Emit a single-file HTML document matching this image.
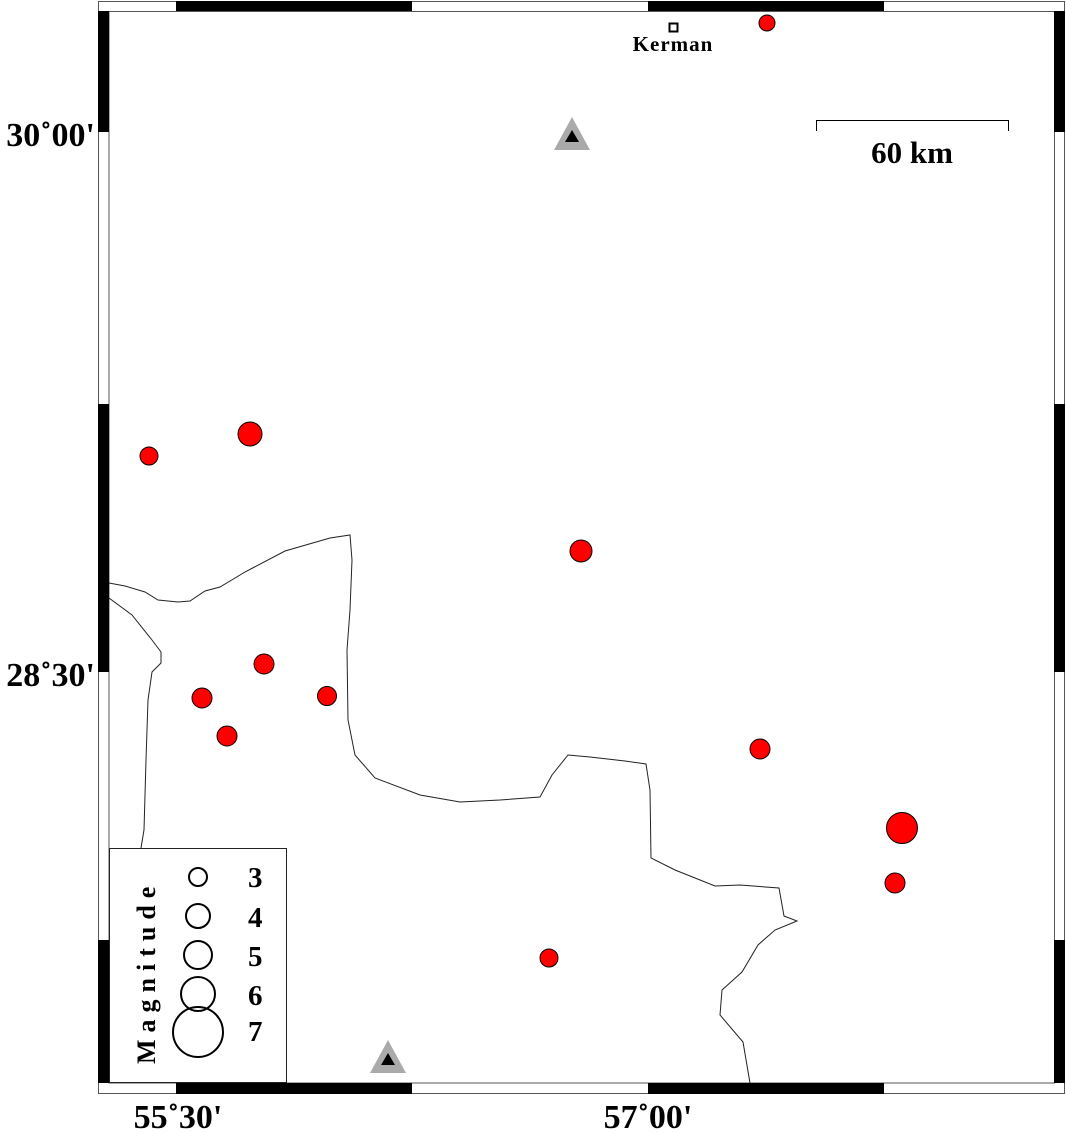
<!DOCTYPE html>
<html><head><meta charset="utf-8"><style>body{margin:0;background:#fff}svg{display:block}</style></head>
<body>
<svg width="1066" height="1133" viewBox="0 0 1066 1133" xmlns="http://www.w3.org/2000/svg">
<rect width="1066" height="1133" fill="#fff"/>
<rect x="98.5" y="1.5" width="966" height="1092" fill="none" stroke="#555" stroke-width="1"/>
<rect x="109" y="11.5" width="945.5" height="1071.5" fill="none" stroke="#555" stroke-width="1"/>
<g fill="#000">
<rect x="176" y="1" width="236" height="10"/><rect x="648" y="1" width="236" height="10"/>
<rect x="176" y="1083" width="236" height="11"/><rect x="648" y="1083" width="236" height="11"/>
<rect x="98" y="11" width="11" height="121"/><rect x="98" y="404" width="11" height="268"/><rect x="98" y="940" width="11" height="143"/>
<rect x="1054" y="11" width="11" height="121"/><rect x="1054" y="404" width="11" height="268"/><rect x="1054" y="940" width="11" height="143"/>
</g>
<g fill="none" stroke="#222" stroke-width="1">
<path d="M109,583 L125,586 L145,592 L158,600 L178,602 L190,601 L205,591 L220,587 L245,572 L285,551 L330,538 L350,535 L352,560 L350,610 L347,650 L348,720 L355,755 L375,778 L420,795 L460,802 L500,800 L540,797 L552,775 L568,755 L590,757 L625,761 L646,764 L650,790 L651,858 L675,870 L715,886 L740,885 L779,888 L784,916 L797,921 L775,930 L758,945 L742,972 L722,990 L720,1015 L743,1042 L750,1083"/>
<path d="M109,598 L132,615 L152,640 L161,652 L161,663 L152,672 L148,700 L146,760 L144,830 L141,848"/>
</g>
<rect x="109.5" y="848.5" width="177" height="234" fill="#fff" stroke="#222" stroke-width="1"/>
<g fill="none" stroke="#000" stroke-width="2">
<circle cx="198" cy="877" r="9"/><circle cx="198" cy="916" r="12"/><circle cx="198" cy="955" r="14"/><circle cx="198" cy="994" r="17"/><circle cx="198" cy="1032" r="25"/>
</g>
<g font-family="Liberation Serif, serif" font-weight="bold" font-size="29" fill="#000">
<text x="248" y="887">3</text><text x="248" y="927">4</text><text x="248" y="966">5</text><text x="248" y="1005">6</text><text x="248" y="1041">7</text>
<text transform="translate(155,1064) rotate(-90)" font-size="26" letter-spacing="7">Magnitude</text>
</g>
<g fill="#f00" stroke="#000" stroke-width="1">
<circle cx="767" cy="23" r="8"/><circle cx="250" cy="434" r="12"/><circle cx="149" cy="456" r="9"/>
<circle cx="581" cy="551" r="11"/><circle cx="264" cy="664" r="10"/><circle cx="202" cy="698" r="10"/>
<circle cx="327" cy="696" r="9.5"/><circle cx="227" cy="736" r="10"/><circle cx="760" cy="749" r="10"/>
<circle cx="902" cy="828" r="15.5"/><circle cx="895" cy="883" r="10"/><circle cx="549" cy="958" r="9"/>
</g>
<polygon points="572,117 554,150 590,150" fill="#aaa"/><polygon points="572,130 565,142 579,142" fill="#000"/>
<polygon points="388,1040 370,1073 406,1073" fill="#aaa"/><polygon points="388,1053 381,1065 395,1065" fill="#000"/>
<rect x="669.5" y="23.5" width="8" height="8" fill="#fff" stroke="#000" stroke-width="2"/>
<text x="673" y="51" text-anchor="middle" font-family="Liberation Serif, serif" font-weight="bold" font-size="21" letter-spacing="1">Kerman</text>
<path d="M816.5,131 V120.5 H1008.5 V131" fill="none" stroke="#000" stroke-width="1"/>
<text x="912" y="163" text-anchor="middle" font-family="Liberation Serif, serif" font-weight="bold" font-size="31">60 km</text>
<g font-family="Liberation Serif, serif" font-weight="bold" font-size="34" fill="#000">
<text x="95" y="146" text-anchor="end">30˚00'</text>
<text x="95" y="686" text-anchor="end">28˚30'</text>
<text x="178" y="1128" text-anchor="middle">55˚30'</text>
<text x="648" y="1128" text-anchor="middle">57˚00'</text>
</g>
</svg>
</body></html>
